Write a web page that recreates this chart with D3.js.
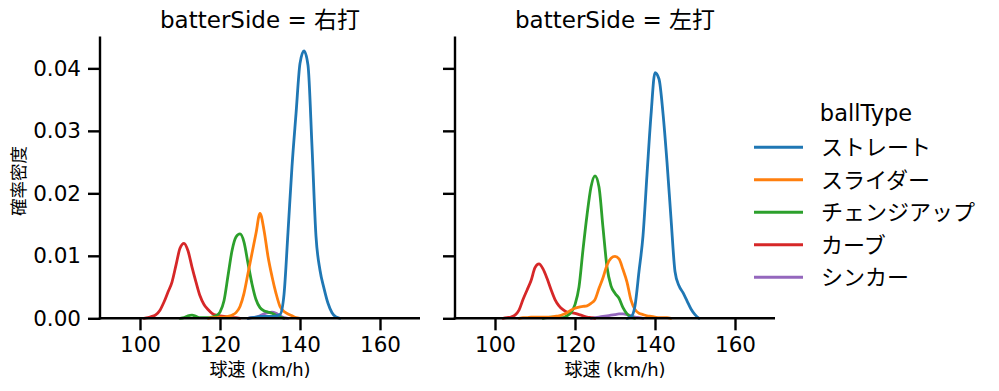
<!DOCTYPE html>
<html><head><meta charset="utf-8">
<script src="https://cdn.jsdelivr.net/npm/d3@7"></script>
<style>
html,body{margin:0;padding:0;background:#fff;}
svg text{font-family:"DejaVu Sans","Noto Sans CJK JP",sans-serif;fill:#000;}
</style></head>
<body><svg id="chart" width="999" height="391"></svg>
<script>
// speed grid (km/h)
const speedGrid = [100,101,102,103,104,105,106,107,108,109,110,111,112,113,114,115,116,117,118,119,120,121,122,123,124,125,126,127,128,129,130,131,132,133,134,135,136,137,138,139,140,141,142,143,144,145,146,147,148,149,150,151,152];
const panels = ["右打","左打"];
const ballTypes = ["ストレート","スライダー","チェンジアップ","カーブ","シンカー"];
const colors = ["#1f77b4","#ff7f0e","#2ca02c","#d62728","#9467bd"];
const xTicks = [100,120,140,160];
const yTicks = [0,0.01,0.02,0.03,0.04];
const N = null;
// 右打 densities
const rightStraight = [N,N,N,N,N,N,N,N,N,N,N,N,N,N,N,N,N,N,N,N,N,N,N,N,N,N,N,0,0.0001,0.0002,0.0003,0.0003,0.0003,0.0003,0.0004,0.0006,0.0038,0.0138,0.0243,0.0327,0.0408,0.0428,0.0405,0.0275,0.0131,0.0077,0.0048,0.0024,0.0009,0.0002,0,N,N];
const rightSlider = [N,N,N,N,N,N,N,N,N,N,N,N,N,N,N,N,N,0,0.0001,0.0001,0.0002,0.0002,0.0003,0.0005,0.0009,0.0019,0.004,0.0072,0.0104,0.0136,0.0168,0.0141,0.0099,0.0067,0.004,0.0019,0.0011,0.0007,0.0004,0.0001,0,N,N,N,N,N,N,N,N,N,N,N,N];
const rightChangeup = [N,N,N,N,N,N,N,N,N,N,0,0.0001,0.0004,0.0005,0.0003,0.0001,0.0001,0.0001,0.0002,0.0004,0.001,0.0028,0.0068,0.0108,0.013,0.0135,0.0122,0.0088,0.0055,0.003,0.0017,0.0012,0.001,0.0008,0.0005,0.0002,0,N,N,N,N,N,N,N,N,N,N,N,N,N,N,N,N];
const rightCurve = [N,0,0.0001,0.0003,0.0006,0.0013,0.0026,0.0042,0.0058,0.0085,0.0112,0.012,0.0108,0.0082,0.0058,0.0036,0.0022,0.0014,0.0008,0.0005,0.0004,0.0003,0.0002,0.0001,0.0001,0,N,N,N,N,N,N,N,N,N,N,N,N,N,N,N,N,N,N,N,N,N,N,N,N,N,N,N];
const rightSinker = [N,N,N,N,N,N,N,N,N,N,N,N,N,N,N,N,N,N,N,N,N,N,N,N,N,N,N,0,0.0001,0.0002,0.0004,0.0007,0.0009,0.001,0.0008,0.0004,0.0001,0,N,N,N,N,N,N,N,N,N,N,N,N,N,N,N];
// 左打 densities
const leftStraight = [N,N,N,N,N,N,N,N,N,N,N,N,N,N,N,N,N,N,N,N,N,N,N,N,N,N,N,N,N,N,N,N,N,0,0.0002,0.002,0.0075,0.0132,0.023,0.0325,0.0393,0.0383,0.0328,0.025,0.016,0.0075,0.0052,0.0041,0.0028,0.0015,0.0006,0,N];
const leftSlider = [N,N,N,N,N,N,0,0.0001,0.0001,0.0002,0.0002,0.0002,0.0002,0.0002,0.0002,0.0003,0.0004,0.0006,0.0009,0.0013,0.0016,0.0018,0.0019,0.002,0.0024,0.003,0.0048,0.0065,0.0085,0.0096,0.0099,0.0095,0.0078,0.0058,0.0029,0.0014,0.0008,0.0006,0.0004,0.0003,0.0002,0.0001,0.0001,0.0001,0,N,N,N,N,N,N,N,N];
const leftChangeup = [N,N,N,N,N,N,N,N,N,N,N,N,0,0.0001,0.0002,0.0002,0.0001,0.0001,0.0004,0.0009,0.0022,0.005,0.011,0.0165,0.021,0.0228,0.021,0.0145,0.0082,0.0052,0.004,0.0032,0.0017,0.0007,0.0002,0,N,N,N,N,N,N,N,N,N,N,N,N,N,N,N,N,N];
const leftCurve = [N,N,0,0.0001,0.0002,0.0005,0.0013,0.003,0.0045,0.006,0.0081,0.0087,0.0079,0.0064,0.0046,0.003,0.002,0.0014,0.001,0.0009,0.0008,0.0006,0.0004,0.0002,0.0001,0,N,N,N,N,N,N,N,N,N,N,N,N,N,N,N,N,N,N,N,N,N,N,N,N,N,N,N];
const leftSinker = [N,N,N,N,N,N,N,N,N,N,N,N,N,N,N,N,N,N,N,N,N,N,N,N,0,0.0001,0.0002,0.0003,0.0004,0.0005,0.0006,0.0007,0.0007,0.0006,0.0004,0.0002,0.0001,0,N,N,N,N,N,N,N,N,N,N,N,N,N,N,N];

const panelSeries = [
  [rightStraight,rightSlider,rightChangeup,rightCurve,rightSinker],
  [leftStraight,leftSlider,leftChangeup,leftCurve,leftSinker]
];

const svg = d3.select("#chart");
const panelX0 = [100,455];
const panelW = 320;
const yTop = 36.5, yBot = 318.3;
const y = d3.scaleLinear().domain([0,0.0451]).range([yBot,yTop]);
const FONT = '"DejaVu Sans","Noto Sans CJK JP",sans-serif';

panels.forEach((p,pi)=>{
  const x = d3.scaleLinear().domain([90,170]).range([panelX0[pi],panelX0[pi]+panelW]);
  const g = svg.append("g");
  const line = d3.line().defined(d=>d[1]!==null).x(d=>x(d[0])).y(d=>y(d[1])).curve(d3.curveMonotoneX);
  for(let k=ballTypes.length-1;k>=0;k--){
    const vals = panelSeries[pi][k];
    const pts = speedGrid.map((s,i)=>[s,vals[i]]);
    g.append("path").attr("d",line(pts)).attr("fill","none")
      .attr("stroke",colors[k]).attr("stroke-width",2.8).attr("stroke-linejoin","round").attr("stroke-linecap","round");
  }
  const xa = g.append("g").attr("transform",`translate(0,${yBot})`)
    .call(d3.axisBottom(x).tickValues(xTicks).tickSize(12).tickPadding(6).tickFormat(d3.format("d")));
  const ya = g.append("g").attr("transform",`translate(${panelX0[pi]},0)`)
    .call(d3.axisLeft(y).tickValues(yTicks).tickSize(12).tickPadding(7).tickFormat(pi===0?d3.format(".2f"):()=>""));
  [xa,ya].forEach(a=>{
    a.select(".domain").attr("stroke","#000").attr("stroke-width",2.4);
    a.selectAll(".tick line").attr("stroke","#000").attr("stroke-width",2.4);
    a.selectAll(".tick text").attr("font-size",21.5).attr("font-family",FONT).attr("fill","#000");
  });
  ya.select(".domain").attr("d",`M-0,${yBot+1.2}V${yTop}`);
  xa.select(".domain").attr("d",`M${panelX0[pi]-1.2},0H${panelX0[pi]+panelW}`);
  svg.append("text").attr("x",panelX0[pi]+panelW/2).attr("y",27.5).attr("text-anchor","middle")
    .attr("font-size",23).text("batterSide = "+p);
  svg.append("text").attr("x",panelX0[pi]+panelW/2).attr("y",376).attr("text-anchor","middle")
    .attr("font-size",18).text("球速 (km/h)");
});
svg.append("text").attr("transform","translate(25,181) rotate(-90)").attr("text-anchor","middle")
  .attr("font-size",17.5).text("確率密度");

const lg = svg.append("g");
lg.append("text").attr("x",866).attr("y",121).attr("text-anchor","middle").attr("font-size",22.5).text("ballType");
ballTypes.forEach((b,i)=>{
  const yy = 147.3 + i*32.5;
  lg.append("line").attr("x1",754).attr("x2",803).attr("y1",yy).attr("y2",yy).attr("stroke",colors[i]).attr("stroke-width",3);
  lg.append("text").attr("x",821).attr("y",yy+8).attr("font-size",22).text(b);
});
</script></body></html>
